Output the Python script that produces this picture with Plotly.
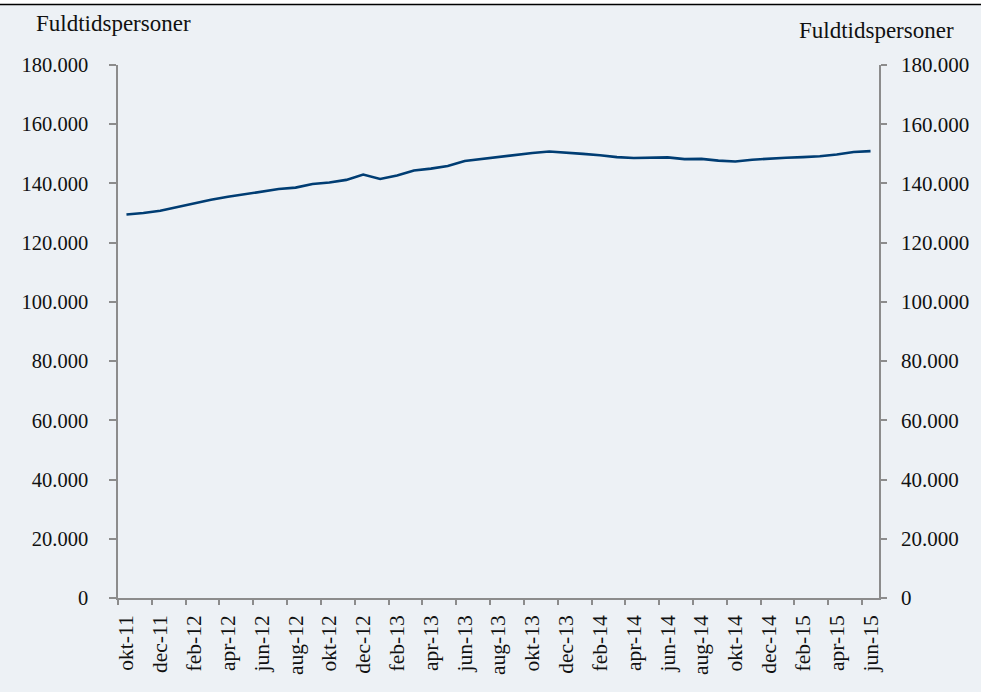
import plotly.graph_objects as go

months = ["okt-11","nov-11","dec-11","jan-12","feb-12","mar-12","apr-12","maj-12","jun-12","jul-12",
          "aug-12","sep-12","okt-12","nov-12","dec-12","jan-13","feb-13","mar-13","apr-13","maj-13",
          "jun-13","jul-13","aug-13","sep-13","okt-13","nov-13","dec-13","jan-14","feb-14","mar-14",
          "apr-14","maj-14","jun-14","jul-14","aug-14","sep-14","okt-14","nov-14","dec-14","jan-15",
          "feb-15","mar-15","apr-15","maj-15","jun-15"]
values = [129500,130000,130800,132000,133400,134500,135500,136300,137200,138100,
          138600,139800,140300,141200,143000,141500,142700,144400,145000,145900,
          147600,148300,149100,149800,150300,150800,150500,150000,149500,148900,
          148600,148600,148800,148200,148300,147700,147400,148000,148400,148700,
          148900,149200,149800,150600,150900]
y_ticks = [0,20000,40000,60000,80000,100000,120000,140000,160000,180000]
axis_title = "Fuldtidspersoner"

W, H = 981, 692
ML, MR, MT, MB = 118, 102, 65, 94
PW, PH = W - ML - MR, H - MT - MB

idx = list(range(len(months)))
label_idx = idx[::2]
bounds = [i - 0.5 for i in idx[::2]]

BG = "#EDF1F5"
AX = "#8C8C8C"
FONT = "Liberation Serif"
TXT = "#111111"

fig = go.Figure()
fig.add_trace(go.Scatter(x=idx, y=values, mode="lines",
                         line=dict(color="#003D73", width=2.6),
                         hoverinfo="skip", showlegend=False))
fig.add_trace(go.Scatter(x=idx, y=values, mode="lines", xaxis="x2", yaxis="y2",
                         line=dict(width=0, color="rgba(0,0,0,0)"),
                         hoverinfo="skip", showlegend=False))

rng = [-0.5, len(months) - 0.5]
fig.update_layout(
    width=W, height=H,
    margin=dict(l=ML, r=MR, t=MT, b=MB),
    paper_bgcolor=BG, plot_bgcolor=BG,
    separators=",.",
    font=dict(family=FONT, color=TXT),
    xaxis=dict(range=rng, tickvals=label_idx, ticktext=[months[i] for i in label_idx],
               tickangle=-90, ticks="", showline=True, linecolor=AX, linewidth=1.5,
               showgrid=False, zeroline=False, tickfont=dict(size=21.5, family=FONT, color=TXT),
               ticklabelstandoff=7, automargin=False),
    xaxis2=dict(range=rng, overlaying="x", tickvals=bounds, ticks="outside", ticklen=6,
                tickcolor=AX, tickwidth=1.5, showticklabels=False, showline=False,
                showgrid=False, zeroline=False, automargin=False),
    yaxis=dict(range=[0, 180000], tickvals=y_ticks, tickformat=",d", ticks="outside",
               ticklen=7, tickcolor=AX, tickwidth=1.5, showline=True, linecolor=AX,
               linewidth=1.5, showgrid=False, zeroline=False,
               tickfont=dict(size=20.5, family=FONT, color=TXT), ticklabelstandoff=17,
               automargin=False),
    yaxis2=dict(range=[0, 180000], tickvals=y_ticks, tickformat=",d", overlaying="y",
                side="right", ticks="outside", ticklen=6, tickcolor=AX, tickwidth=1.5,
                showline=True, linecolor=AX, linewidth=1.5, showgrid=False, zeroline=False,
                tickfont=dict(size=21, family=FONT, color=TXT), ticklabelstandoff=10,
                automargin=False),
)

def px_x(px):
    return (px - ML) / PW

def px_y(py):
    return 1 + (MT - py) / PH

fig.add_annotation(text=axis_title, xref="paper", yref="paper", x=px_x(34), y=px_y(23),
                   xanchor="left", yanchor="middle", showarrow=False,
                   font=dict(size=23, family=FONT, color=TXT))
fig.add_annotation(text=axis_title, xref="paper", yref="paper", x=px_x(956), y=px_y(31),
                   xanchor="right", yanchor="middle", showarrow=False,
                   font=dict(size=23, family=FONT, color=TXT))

fig.add_shape(type="rect", xref="paper", yref="paper", x0=px_x(0), x1=px_x(W),
              y0=px_y(4), y1=px_y(0), fillcolor="white", line=dict(width=0), layer="below")
fig.add_shape(type="line", xref="paper", yref="paper", x0=px_x(0), x1=px_x(W),
              y0=px_y(4.5), y1=px_y(4.5), line=dict(color="black", width=1.5))

fig.write_html("out.html", config={"displayModeBar": False},
               post_script="document.body.style.margin='0';")
